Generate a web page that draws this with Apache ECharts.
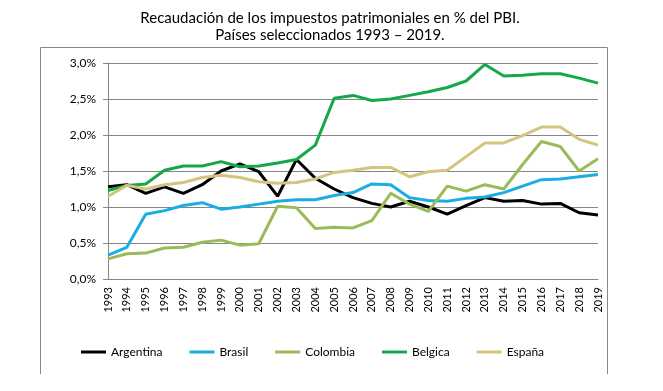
<!DOCTYPE html>
<html>
<head>
<meta charset="utf-8">
<script src="https://cdn.jsdelivr.net/npm/echarts@6/dist/echarts.min.js"></script>
<style>html,body{margin:0;padding:0;background:#fff}#c{width:663px;height:391px}</style>
</head>
<body>
<div id="c"></div>
<script>
var years = ['1993','1994','1995','1996','1997','1998','1999','2000','2001','2002','2003','2004','2005','2006','2007','2008','2009','2010','2011','2012','2013','2014','2015','2016','2017','2018','2019'];
var argentina = [1.28,1.31,1.19,1.28,1.19,1.31,1.50,1.60,1.49,1.15,1.66,1.40,1.25,1.13,1.05,1.00,1.08,1.00,0.90,1.02,1.13,1.08,1.09,1.04,1.05,0.92,0.89];
var brasil    = [0.33,0.44,0.90,0.95,1.02,1.06,0.97,1.00,1.04,1.08,1.10,1.10,1.16,1.20,1.32,1.31,1.13,1.09,1.08,1.12,1.14,1.20,1.29,1.38,1.39,1.42,1.45];
var colombia  = [0.28,0.35,0.36,0.43,0.44,0.51,0.54,0.47,0.49,1.01,0.99,0.70,0.72,0.71,0.81,1.19,1.04,0.94,1.29,1.22,1.31,1.25,1.59,1.91,1.84,1.50,1.67];
var belgica   = [1.23,1.30,1.32,1.51,1.57,1.57,1.63,1.56,1.57,1.61,1.66,1.86,2.51,2.55,2.48,2.50,2.55,2.60,2.66,2.75,2.98,2.82,2.83,2.85,2.85,2.79,2.72];
var espana    = [1.15,1.30,1.25,1.31,1.34,1.41,1.44,1.41,1.35,1.33,1.34,1.39,1.48,1.51,1.55,1.55,1.42,1.49,1.51,1.70,1.89,1.89,1.99,2.11,2.11,1.94,1.86];
var yTicks = [0,0.5,1,1.5,2,2.5,3];
var titleLines = ['Recaudación de los impuestos patrimoniales en % del PBI.','Países seleccionados 1993 – 2019.'];

var names = ['Argentina','Brasil','Colombia','Belgica','España'];
var colors = ['#000000','#1aade4','#9bbb59','#14a84b','#d5c37e'];
var datasets = [argentina, brasil, colombia, belgica, espana];

var chart = echarts.init(document.getElementById('c'), null, {renderer:'canvas'});
var font = 'Lato, "Open Sans", sans-serif';
chart.setOption({
  animation:false,
  color: colors,
  title:{
    text: titleLines.join('\n'),
    left: 325, top: 5, textAlign:'center',
    textStyle:{fontFamily:font,fontSize:15,fontWeight:'normal',color:'#000',lineHeight:17}
  },
  graphic:[{
    type:'polyline', silent:true,
    shape:{points:[[40.5,374],[40.5,47.5],[607.5,47.5],[607.5,374]]},
    style:{stroke:'#888',lineWidth:1,fill:null}
  }],
  legend:{
    data:names, left:76, top:341, icon:'rect', itemWidth:25, itemHeight:3, itemGap:27,
    textStyle:{fontFamily:font,fontSize:12,color:'#000'}
  },
  grid:{left:108,right:65,top:63,bottom:112},
  xAxis:{
    type:'category', data:years, boundaryGap:false,
    axisLine:{lineStyle:{color:'#868686'}},
    axisTick:{show:false},
    axisLabel:{rotate:90,fontFamily:font,fontSize:11,color:'#000',margin:8,interval:0}
  },
  yAxis:{
    type:'value', min:yTicks[0], max:yTicks[yTicks.length-1], interval:0.5,
    axisLine:{show:true,lineStyle:{color:'#868686'}},
    axisTick:{show:true,length:5,lineStyle:{color:'#868686'}},
    splitLine:{lineStyle:{color:'#868686'}},
    axisLabel:{fontFamily:font,fontSize:12,color:'#000',margin:12,
      formatter:function(v){return v.toFixed(1).replace('.',',')+'%';}}
  },
  series: names.map(function(n,i){
    return {name:n,type:'line',data:datasets[i],showSymbol:false,symbol:'none',
      lineStyle:{width:3,color:colors[i]},itemStyle:{color:colors[i]}};
  })
});
</script>
</body>
</html>
